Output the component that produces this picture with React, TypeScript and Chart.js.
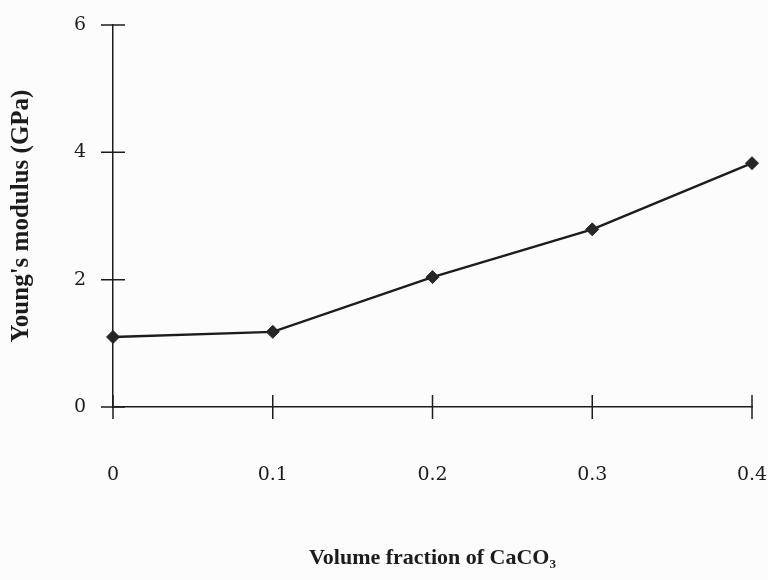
import React, { useEffect, useRef } from "react";
import { Chart, registerables } from "chart.js";

Chart.register(...registerables);

// Young's modulus of the composite against CaCO3 volume fraction
const volumeFractions = [0, 0.1, 0.2, 0.3, 0.4];
const youngsModulus = [1.1, 1.18, 2.04, 2.79, 3.83];

const xTickValues = [0, 0.1, 0.2, 0.3, 0.4];
const yTickValues = [0, 2, 4, 6];

const INK = "#1c1c1c";
const TICK_HALF = 12;

// Tick marks that straddle the axis lines on both sides
const crossTicks = {
  id: "crossTicks",
  afterDraw(chart: any) {
    const { ctx, chartArea, scales } = chart;
    ctx.save();
    ctx.strokeStyle = INK;
    ctx.lineWidth = 1.5;
    ctx.beginPath();
    for (const v of xTickValues) {
      const px = scales.x.getPixelForValue(v);
      ctx.moveTo(px, chartArea.bottom - TICK_HALF);
      ctx.lineTo(px, chartArea.bottom + TICK_HALF);
    }
    for (const v of yTickValues) {
      const py = scales.y.getPixelForValue(v);
      ctx.moveTo(chartArea.left - TICK_HALF, py);
      ctx.lineTo(chartArea.left + TICK_HALF, py);
    }
    ctx.stroke();
    ctx.restore();
  },
};

export default function App() {
  const canvasRef = useRef<HTMLCanvasElement | null>(null);

  useEffect(() => {
    if (!canvasRef.current) return;
    const chart = new Chart(canvasRef.current, {
      type: "line",
      data: {
        datasets: [
          {
            data: volumeFractions.map((x, i) => ({ x, y: youngsModulus[i] })),
            borderColor: INK,
            borderWidth: 2.4,
            pointStyle: "rectRot",
            pointRadius: 6.5,
            pointBackgroundColor: "#262626",
            pointBorderColor: "#262626",
            pointBorderWidth: 1,
            tension: 0,
            clip: false as any,
          },
        ],
      },
      options: {
        animation: false,
        responsive: false,
        maintainAspectRatio: false,
        layout: { padding: { left: 0, top: 25, right: 16, bottom: 0 } },
        plugins: {
          legend: { display: false },
          tooltip: { enabled: false },
        },
        scales: {
          x: {
            type: "linear",
            min: 0,
            max: 0.4,
            afterBuildTicks: (scale: any) => {
              scale.ticks = xTickValues.map((value) => ({ value }));
            },
            afterFit: (scale: any) => {
              scale.height = 173;
              scale.paddingLeft = 0;
              scale.paddingRight = 0;
            },
            grid: { display: false, drawTicks: false, tickLength: 0 },
            border: { display: true, color: INK, width: 1.5 },
            ticks: {
              color: INK,
              padding: 57,
              maxRotation: 0,
              font: { family: "'DejaVu Serif', serif", size: 19 },
              callback: (v: any) => String(v),
            },
            title: {
              display: true,
              text: "Volume fraction of CaCO₃",
              color: INK,
              padding: { top: 0, bottom: 8 },
              font: { family: "'Liberation Serif', serif", size: 22, weight: "bold" },
            },
          },
          y: {
            type: "linear",
            min: 0,
            max: 6,
            afterBuildTicks: (scale: any) => {
              scale.ticks = yTickValues.map((value) => ({ value }));
            },
            afterFit: (scale: any) => {
              scale.width = 113;
              scale.paddingTop = 0;
              scale.paddingBottom = 0;
            },
            grid: { display: false, drawTicks: false, tickLength: 0 },
            border: { display: true, color: INK, width: 1.5 },
            ticks: {
              color: INK,
              padding: 27,
              font: { family: "'DejaVu Serif', serif", size: 19 },
              callback: (v: any) => String(v),
            },
            title: {
              display: true,
              text: "Young's modulus (GPa)",
              color: INK,
              padding: { top: 7, bottom: 0 },
              font: { family: "'Liberation Serif', serif", size: 25, weight: "bold" },
            },
          },
        },
      },
      plugins: [crossTicks],
    });
    return () => chart.destroy();
  }, []);

  return (
    <div style={{ position: "fixed", left: 0, top: 0, width: 768, height: 580, background: "#fcfcfc" }}>
      <canvas ref={canvasRef} width={768} height={580} style={{ display: "block" }} />
    </div>
  );
}
